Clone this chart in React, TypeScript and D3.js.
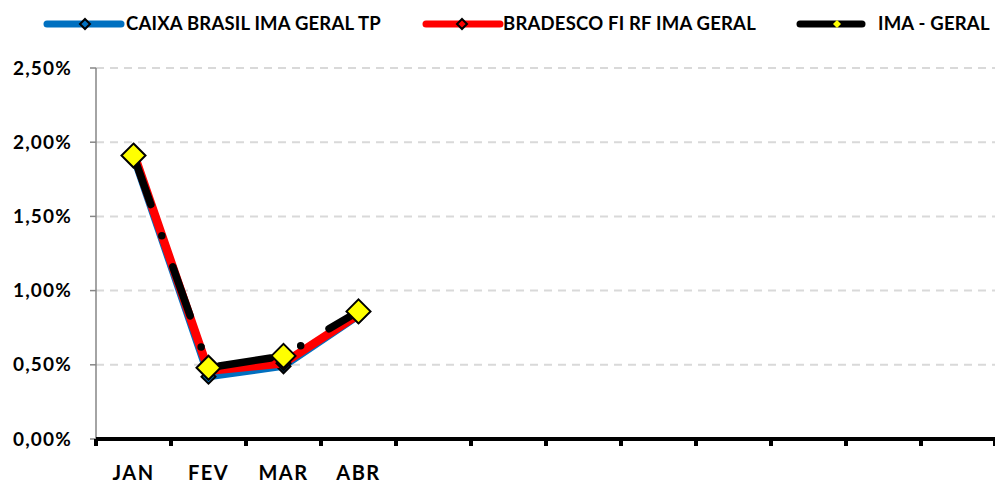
import * as d3 from 'd3'

const MONTHS = ['JAN', 'FEV', 'MAR', 'ABR', 'MAI', 'JUN', 'JUL', 'AGO', 'SET', 'OUT', 'NOV', 'DEZ']
const SHOWN_MONTHS = ['JAN', 'FEV', 'MAR', 'ABR']
const Y_TICKS = [0, 0.005, 0.01, 0.015, 0.02, 0.025]

const CAIXA = [0.0190, 0.0042, 0.0049, 0.0083]
const BRADESCO = [0.0193, 0.0046, 0.0051, 0.0084]
const IMA_GERAL = [0.0191, 0.0048, 0.0056, 0.0086]

const SERIES = [
  { name: 'CAIXA BRASIL IMA GERAL TP', values: CAIXA, color: '#0070c0' },
  { name: 'BRADESCO FI RF IMA GERAL', values: BRADESCO, color: '#ff0000' },
  { name: 'IMA - GERAL', values: IMA_GERAL, color: '#000000' },
]

const W = 995
const H = 485
const FONT = 'Lato, "Open Sans", sans-serif'

const diamond = (cx: number, cy: number, r: number) =>
  `M${cx},${cy - r}L${cx + r},${cy}L${cx},${cy + r}L${cx - r},${cy}Z`

const pct = (v: number) => d3.format('.2%')(v).replace('.', ',')

export default function App() {
  const x = d3.scaleBand().domain(MONTHS).range([96, 996])
  const y = d3.scaleLinear().domain([0, 0.025]).range([439, 68])
  const cx = (m: string) => (x(m) ?? 0) + x.bandwidth() / 2

  const line = d3.line<number>()
    .x((_, i) => cx(SHOWN_MONTHS[i]))
    .y(d => y(d))

  const legend = [
    { x1: 47, x2: 121, mx: 85, tx: 126 },
    { x1: 426, x2: 500, mx: 462, tx: 503 },
    { x1: 800, x2: 862, mx: 837, tx: 878 },
  ]

  return (
    <svg width={W} height={H} style={{ position: 'fixed', left: 0, top: 0, background: '#fff' }}>
      {/* grid */}
      {Y_TICKS.filter(t => t > 0).map(t => (
        <line key={t} x1={96} x2={996} y1={y(t)} y2={y(t)}
          stroke="#d9d9d9" strokeWidth={2} strokeDasharray="8,6" />
      ))}
      {/* y axis */}
      <line x1={96} x2={96} y1={y(0.025)} y2={y(0)} stroke="#868686" strokeWidth={1.5} />
      {Y_TICKS.map(t => (
        <g key={t}>
          <line x1={90} x2={96} y1={y(t)} y2={y(t)} stroke="#868686" strokeWidth={1.5} />
          <text x={72} y={y(t)} dy="0.35em" textAnchor="end" fontFamily={FONT}
            fontWeight={700} fontSize={19} letterSpacing={1.2}>{pct(t)}</text>
        </g>
      ))}
      {/* x axis */}
      <line x1={96} x2={996} y1={439} y2={439} stroke="#000" strokeWidth={4} />
      {MONTHS.map(m => (
        <line key={m} x1={x(m)} x2={x(m)} y1={439} y2={446} stroke="#000" strokeWidth={4} />
      ))}
      <line x1={995} x2={995} y1={439} y2={446} stroke="#000" strokeWidth={4} />
      {SHOWN_MONTHS.map(m => (
        <text key={m} x={cx(m)} y={480} textAnchor="middle" fontFamily={FONT}
          fontWeight={700} fontSize={20} letterSpacing={1.5}>{m}</text>
      ))}

      {/* series */}
      <path d={line(CAIXA) ?? ''} fill="none" stroke="#0070c0" strokeWidth={7} strokeLinejoin="round" />
      {CAIXA.map((v, i) => (
        <path key={i} d={diamond(cx(SHOWN_MONTHS[i]), y(v), 7)} fill="#0070c0" stroke="#000" strokeWidth={2} />
      ))}
      <path d={line(BRADESCO) ?? ''} fill="none" stroke="#ff0000" strokeWidth={8.5} strokeLinejoin="round" />
      {BRADESCO.map((v, i) => (
        <path key={i} d={diamond(cx(SHOWN_MONTHS[i]), y(v), 7)} fill="#ff0000" stroke="#000" strokeWidth={2} />
      ))}
      <path d={line(IMA_GERAL) ?? ''} fill="none" stroke="#000" strokeWidth={7.5}
        strokeLinecap="round" strokeLinejoin="round" strokeDasharray="52,33,0,33" />
      {IMA_GERAL.map((v, i) => (
        <path key={i} d={diamond(cx(SHOWN_MONTHS[i]), y(v), 12)} fill="#ffff00" stroke="#000" strokeWidth={2} />
      ))}

      {/* legend */}
      {SERIES.map((s, i) => {
        const l = legend[i]
        const black = s.color === '#000000'
        return (
          <g key={s.name}>
            <line x1={l.x1} x2={l.x2} y1={24} y2={24} stroke={s.color} strokeWidth={7} strokeLinecap="round" />
            <path d={diamond(l.mx, 24, black ? 4 : 5)} fill={black ? '#ffff00' : s.color}
              stroke={black ? 'none' : '#000'} strokeWidth={2} />
            <text x={l.tx} y={24} dy="0.35em" fontFamily={FONT} fontWeight={700} fontSize={18.5}
              letterSpacing={0.2}>{s.name}</text>
          </g>
        )
      })}
    </svg>
  )
}
